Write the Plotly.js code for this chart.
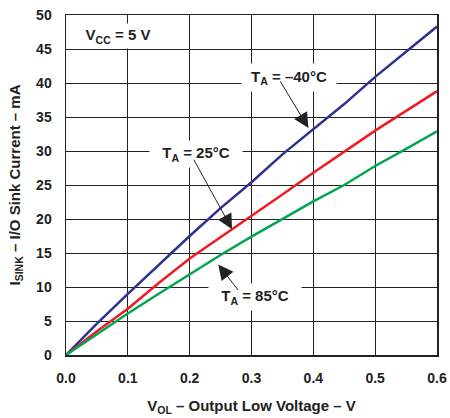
<!DOCTYPE html>
<html>
<head>
<meta charset="utf-8">
<script src="https://cdn.plot.ly/plotly-3.0.1.min.js"></script>
<style>html,body{margin:0;padding:0;background:#fff;}#chart{width:450px;height:418px;}</style>
</head>
<body>
<div id="chart"></div>
<script>
// Output low voltage (V)
var vol = [0, 0.05, 0.1, 0.15, 0.2, 0.25, 0.3, 0.35, 0.4, 0.45, 0.5, 0.55, 0.6];
// Sink current (mA) per ambient temperature
var isinkM40 = [0, 4.6, 9.0, 13.3, 17.5, 21.6, 25.4, 29.5, 33.2, 36.9, 40.9, 44.6, 48.3];
var isink25  = [0, 3.5, 6.8, 10.6, 14.2, 17.3, 20.4, 23.6, 26.8, 29.9, 33.0, 35.9, 38.8];
var isink85  = [0, 3.1, 6.1, 9.0, 11.9, 14.7, 17.4, 20.0, 22.6, 25.0, 27.8, 30.3, 32.9];
var seriesNames = ['T<sub>A</sub> = –40°C', 'T<sub>A</sub> = 25°C', 'T<sub>A</sub> = 85°C'];
var xTicks = [0, 0.1, 0.2, 0.3, 0.4, 0.5, 0.6];
var xTickText = ['0.0', '0.1', '0.2', '0.3', '0.4', '0.5', '0.6'];
var yTicks = [0, 5, 10, 15, 20, 25, 30, 35, 40, 45, 50];

var FONT = 'Liberation Sans, Arial, Helvetica, sans-serif';
var colors = ['#2e3192', '#ed1c24', '#00a651'];
var ys = [isinkM40, isink25, isink85];

var traces = ys.map(function (y, i) {
  return {x: vol, y: y, type: 'scatter', mode: 'lines', name: seriesNames[i],
          line: {color: colors[i], width: 2.5}, hoverinfo: 'skip'};
});

function label(txt, x, y, w, h) {
  return {text: txt, x: x, y: y, xref: 'x', yref: 'y', showarrow: false,
          width: w, height: h, bgcolor: '#ffffff', borderpad: 2,
          font: {family: FONT, size: 15, color: '#222', weight: 'bold'}};
}
function arrow(x, y, ax, ay) {
  return {text: '', x: x, y: y, xref: 'x', yref: 'y', showarrow: true,
          ax: ax, ay: ay, arrowhead: 2, arrowsize: 3, arrowwidth: 1,
          arrowcolor: '#222', standoff: 0};
}

var layout = {
  width: 450, height: 418,
  margin: {l: 66, r: 13, t: 15, b: 63},
  paper_bgcolor: '#fff', plot_bgcolor: '#fff',
  showlegend: false,
  font: {family: FONT, color: '#222'},
  xaxis: {
    range: [0, 0.6], tickvals: xTicks, ticktext: xTickText,
    showgrid: true, gridcolor: '#222', gridwidth: 1,
    zeroline: false, showline: true, linecolor: '#222', linewidth: 1.5, mirror: true,
    ticks: '', ticklabelstandoff: 10,
    tickfont: {family: FONT, size: 14, color: '#222', weight: 'bold'},
    title: {text: 'V<sub>OL</sub> – Output Low Voltage – V', standoff: 15,
            font: {family: FONT, size: 15, color: '#222', weight: 'bold'}}
  },
  yaxis: {
    range: [0, 50], tickvals: yTicks,
    showgrid: true, gridcolor: '#222', gridwidth: 1,
    zeroline: false, showline: true, linecolor: '#222', linewidth: 1.5, mirror: true,
    ticks: '', ticklabelstandoff: 10,
    tickfont: {family: FONT, size: 14, color: '#222', weight: 'bold'},
    title: {text: 'I<sub>SINK</sub> – I/O Sink Current – mA', standoff: 12,
            font: {family: FONT, size: 15, color: '#222', weight: 'bold'}}
  },
  annotations: [
    label('V<sub>CC</sub> = 5 V', 0.0841, 46.9, 74, 20),
    label(seriesNames[0], 0.3609, 40.8, 90, 23),
    label(seriesNames[1], 0.2103, 29.6, 88, 22),
    label(seriesNames[2], 0.3057, 8.5, 88, 22),
    arrow(0.392, 33.4, -29, -48),
    arrow(0.2685, 18.5, -39, -71),
    arrow(0.2463, 13.3, 21, 27)
  ]
};

Plotly.newPlot('chart', traces, layout, {staticPlot: true, displayModeBar: false});
</script>
</body>
</html>
